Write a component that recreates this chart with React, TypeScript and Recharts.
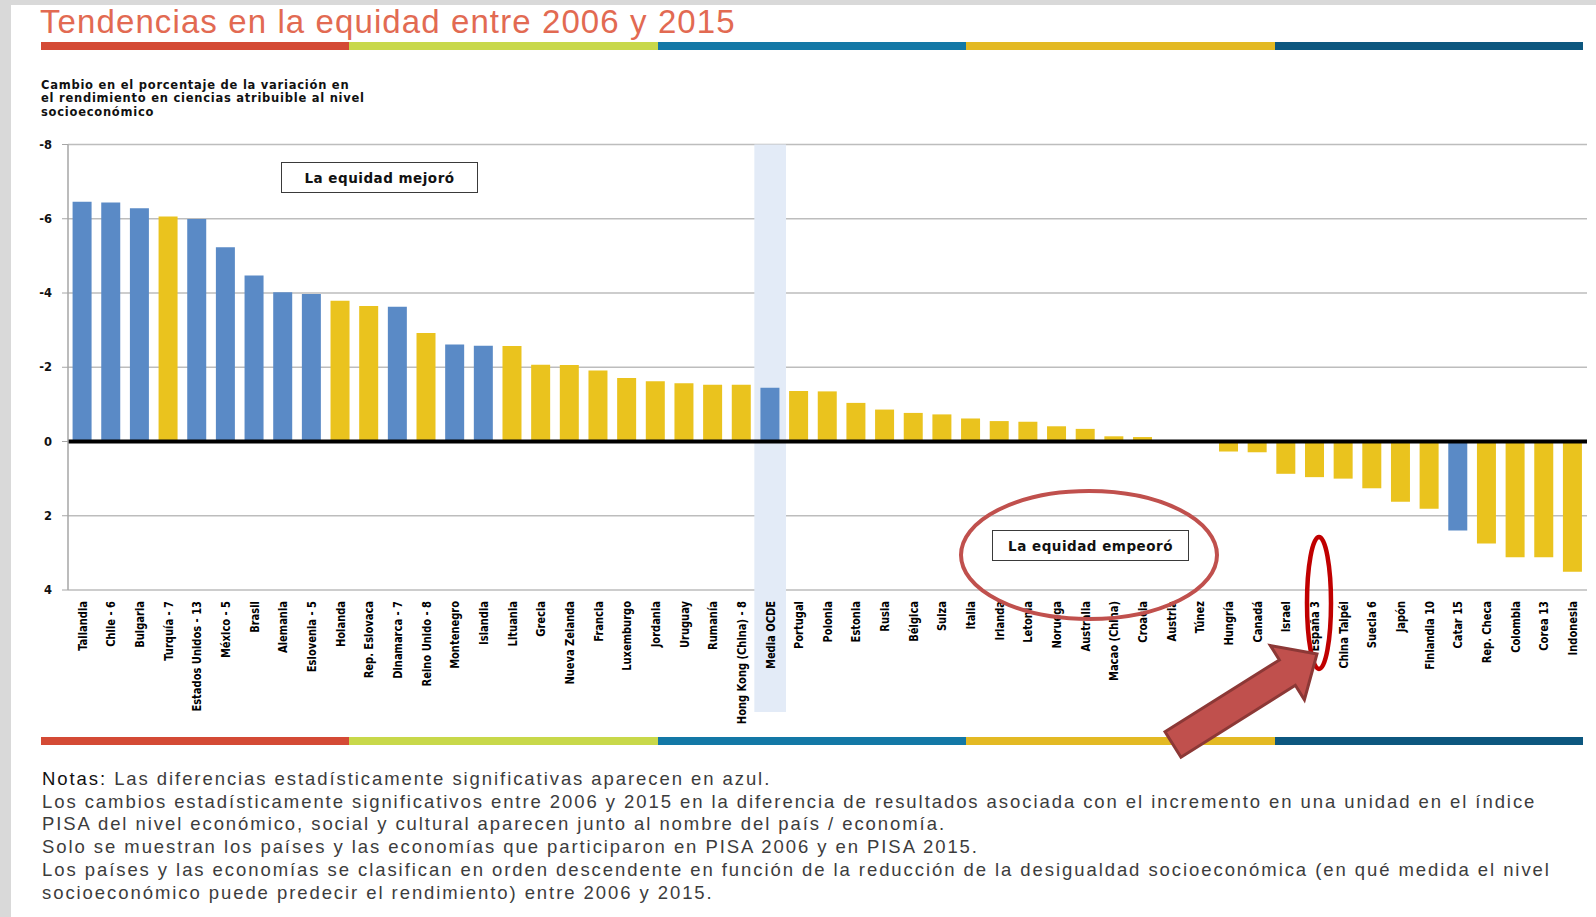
import React from 'react';
import { BarChart, Bar, XAxis, YAxis, CartesianGrid, ReferenceLine, ReferenceArea, Cell } from 'recharts';

const PAISES = [
  'Tailandia', 'Chile - 6', 'Bulgaria', 'Turquía - 7', 'Estados Unidos - 13', 'México - 5', 'Brasil',
  'Alemania', 'Eslovenia - 5', 'Holanda', 'Rep. Eslovaca', 'Dinamarca - 7', 'Reino Unido - 8',
  'Montenegro', 'Islandia', 'Lituania', 'Grecia', 'Nueva Zelanda', 'Francia', 'Luxemburgo',
  'Jordania', 'Uruguay', 'Rumanía', 'Hong Kong (China) - 8', 'Media OCDE', 'Portugal', 'Polonia',
  'Estonia', 'Rusia', 'Bélgica', 'Suiza', 'Italia', 'Irlanda', 'Letonia', 'Noruega', 'Australia',
  'Macao (China)', 'Croacia', 'Austria', 'Túnez', 'Hungría', 'Canadá', 'Israel', 'España 3',
  'China Taipéi', 'Suecia 6', 'Japón', 'Finlandia 10', 'Catar 15', 'Rep. Checa', 'Colombia',
  'Corea 13', 'Indonesia',
];

const CAMBIO = [
  -6.46, -6.44, -6.28, -6.06, -5.99, -5.23, -4.47, -4.02, -3.97, -3.79, -3.65, -3.63, -2.92,
  -2.61, -2.58, -2.57, -2.07, -2.06, -1.91, -1.71, -1.62, -1.57, -1.53, -1.53, -1.45, -1.36, -1.35,
  -1.04, -0.86, -0.77, -0.73, -0.62, -0.55, -0.53, -0.41, -0.34, -0.14, -0.12, -0.02, 0.03,
  0.27, 0.29, 0.87, 0.96, 1.0, 1.26, 1.62, 1.81, 2.4, 2.75, 3.12, 3.12, 3.51,
];

// diferencias estadísticamente significativas (en azul)
const SIGNIFICATIVOS = [
  'Tailandia', 'Chile - 6', 'Bulgaria', 'Estados Unidos - 13', 'México - 5', 'Brasil', 'Alemania',
  'Eslovenia - 5', 'Dinamarca - 7', 'Montenegro', 'Islandia', 'Media OCDE', 'Catar 15',
];

const Y_TICKS = [-8, -6, -4, -2, 0, 2, 4];

const TITULO_Y = [
  'Cambio en el porcentaje de la variación en',
  'el rendimiento en ciencias atribuible al nivel',
  'socioeconómico',
];

const NOTAS = [
  'Las diferencias estadísticamente significativas aparecen en azul.',
  'Los cambios estadísticamente significativos entre 2006 y 2015 en la diferencia de resultados asociada con el incremento en una unidad en el índice',
  'PISA del nivel económico, social y cultural aparecen junto al nombre del país / economía.',
  'Solo se muestran los países y las economías que participaron en PISA 2006 y en PISA 2015.',
  'Los países y las economías se clasifican en orden descendente en función de la reducción de la desigualdad socioeconómica (en qué medida el nivel',
  'socioeconómico puede predecir el rendimiento) entre 2006 y 2015.',
];

const FRANJA = ['#d44a35', '#c8d84a', '#1378a6', '#e3b923', '#0d577f'];

const AZUL = '#5a8ac6';
const AMARILLO = '#eac31e';

const data = PAISES.map((p, i) => ({ pais: p, valor: CAMBIO[i] }));

function Franja({ top }: { top: number }) {
  return (
    <div style={{ position: 'absolute', left: 41, top, width: 1542, height: 8, display: 'flex' }}>
      {FRANJA.map(c => <div key={c} style={{ flex: 1, background: c }} />)}
    </div>
  );
}

function EtiquetaPais({ x, y, payload }: any) {
  const ty = y + 11;
  return (
    <text
      x={0} y={0} dy="0.36em"
      transform={`translate(${x} ${ty}) rotate(-90) scale(0.92 1)`}
      textAnchor="end"
      fontFamily="'DejaVu Sans Condensed', 'DejaVu Sans', sans-serif"
      fontWeight="bold" fontSize={12} fill="#000"
    >
      {payload.value}
    </text>
  );
}

/* banda azul clara detrás de la media OCDE, baja hasta las etiquetas */
function BandaMedia({ x, y, width, height }: any) {
  if (x == null) return null;
  return <rect x={x - 1.5} y={y} width={width + 3} height={height + 122} fill="#e3ebf7" />;
}

function Flecha() {
  // flecha grande que apunta a España
  const tail = [1173, 744.5], tip = [1317, 654];
  const dx = tip[0] - tail[0], dy = tip[1] - tail[1];
  const len = Math.hypot(dx, dy);
  const u = [dx / len, dy / len], n = [-u[1], u[0]];
  const h = 15, H = 32, L = 35;
  const b = [tip[0] - L * u[0], tip[1] - L * u[1]];
  const p = (c: number[], s: number) => `${c[0] + s * n[0]},${c[1] + s * n[1]}`;
  const pts = [p(tail, -h), p(b, -h), p(b, -H), `${tip[0]},${tip[1]}`, p(b, H), p(b, h), p(tail, h)].join(' ');
  return <polygon points={pts} fill="#c0504d" stroke="#8c3836" strokeWidth={3} strokeLinejoin="miter" />;
}

export default function App() {
  return (
    <div style={{ position: 'absolute', left: 0, top: 0, width: 1596, height: 917, background: '#d9d9d9', overflow: 'hidden' }}>
      <div style={{ position: 'absolute', left: 11, top: 5, right: 0, bottom: 0, background: '#fff' }} />

      <div style={{
        position: 'absolute', left: 40, top: 3, fontFamily: "'Liberation Sans', Arial, sans-serif",
        fontSize: 33, letterSpacing: 1.1, color: '#e26a52', whiteSpace: 'nowrap',
      }}>
        Tendencias en la equidad entre 2006 y 2015
      </div>
      <Franja top={42} />

      <div style={{
        position: 'absolute', left: 41, top: 79, fontFamily: "'DejaVu Sans', Verdana, sans-serif",
        fontSize: 11.5, letterSpacing: 0.75, fontWeight: 'bold', lineHeight: '13.4px', color: '#111', whiteSpace: 'nowrap',
      }}>
        {TITULO_Y.map(t => <div key={t}>{t}</div>)}
      </div>

      <div style={{ position: 'absolute', left: 0, top: 0 }}>
        <BarChart
          width={1596} height={740} data={data}
          margin={{ top: 144.5, right: 9, left: 0, bottom: 0 }}
          barCategoryGap="16%"
        >
          <CartesianGrid vertical={false} stroke="#bdbdbd" strokeWidth={1.5} />
          <ReferenceArea x1="Media OCDE" x2="Media OCDE" shape={<BandaMedia />} ifOverflow="visible" />
          <XAxis
            dataKey="pais" interval={0} height={150}
            axisLine={false} tickLine={false} tickSize={0} tickMargin={0}
            tick={<EtiquetaPais />}
          />
          <YAxis
            width={68} reversed domain={[-8, 4]} ticks={Y_TICKS} type="number"
            axisLine={{ stroke: '#a6a6a6', strokeWidth: 1.5 }}
            tickLine={{ stroke: '#a6a6a6' }} tickSize={6} tickMargin={10}
            tick={{ fontFamily: "'DejaVu Sans', Verdana, sans-serif", fontWeight: 'bold', fontSize: 11.5, fill: '#111' }}
          />
          <Bar dataKey="valor" isAnimationActive={false}>
            {data.map(d => (
              <Cell key={d.pais} fill={SIGNIFICATIVOS.includes(d.pais) ? AZUL : AMARILLO} />
            ))}
          </Bar>
          <ReferenceLine y={0} stroke="#000" strokeWidth={4} />
        </BarChart>
      </div>

      {[
        { t: 'La equidad mejoró', left: 281, top: 162 },
        { t: 'La equidad empeoró', left: 992, top: 530 },
      ].map(b => (
        <div key={b.t} style={{
          position: 'absolute', left: b.left, top: b.top, width: 197, height: 31, boxSizing: 'border-box',
          border: '1.5px solid #3a3a3a', background: '#fff', display: 'flex', alignItems: 'center',
          justifyContent: 'center', fontFamily: "'DejaVu Sans', Verdana, sans-serif", fontWeight: 'bold',
          fontSize: 13.5, letterSpacing: 0.5, color: '#111',
        }}>{b.t}</div>
      ))}

      <Franja top={737} />

      <div style={{
        position: 'absolute', left: 42, top: 768, fontFamily: "'Liberation Sans', Arial, sans-serif",
        fontSize: 18.5, letterSpacing: 1.93, lineHeight: '22.7px', color: '#3c3c3c', whiteSpace: 'nowrap',
      }}>
        {NOTAS.map((t, i) => (
          <div key={i}>{i === 0 && <span style={{ color: '#111' }}>Notas: </span>}{t}</div>
        ))}
      </div>

      <svg width={1596} height={917} style={{ position: 'absolute', left: 0, top: 0, pointerEvents: 'none' }}>
        <ellipse cx={1089} cy={555} rx={128} ry={64} fill="none" stroke="#c0504d" strokeWidth={4} />
        <ellipse cx={1319} cy={603} rx={12} ry={66} fill="none" stroke="#c00000" strokeWidth={4.5} />
        <Flecha />
      </svg>
    </div>
  );
}
